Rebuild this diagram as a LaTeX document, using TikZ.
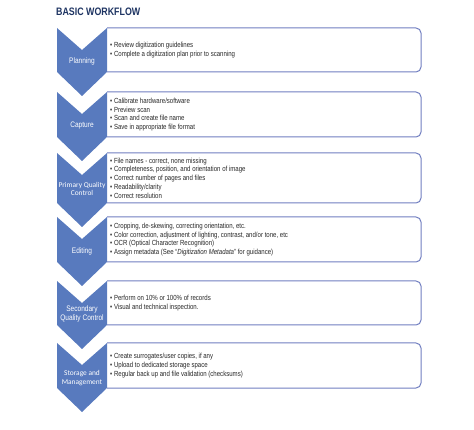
\documentclass[tikz,border=0pt]{standalone}
\usepackage{fontspec}
\setmainfont{Liberation Sans}[FakeStretch=0.82]
\newfontfamily\calib{Carlito}
\usepackage{tikz}
\usetikzlibrary{calc}
\definecolor{chevblue}{RGB}{88,122,190}
\definecolor{boxline}{RGB}{112,126,192}
\definecolor{titleblue}{RGB}{30,52,98}
\tikzset{
  items/.style={anchor=west, align=left, inner sep=0pt, text=black!85,
    font=\fontsize{7.4}{8.8}\selectfont},
  chevlabel/.style={align=center, inner sep=0pt, text=white,
    font=\fontsize{8}{8.6}\selectfont},
  calblabel/.style={align=center, inner sep=0pt, text=white,
    font=\calib\fontsize{7.4}{8.6}\selectfont}
}
\def\chevron[#1](#2:#3){\fill[#1] (57,#2) -- (82,#2+22) -- (107,#2) -- (107,#3) -- (82,#3+24) -- (57,#3) -- cycle;}
\def\stagebox(#1:#2){\draw[boxline, line width=1pt, rounded corners=5pt] (107,#1) -- (421,#1) -- (421,#2) -- (107,#2);}

\begin{document}
\begin{tikzpicture}[x=1pt, y=-1pt]
			%%%%% START %%%%%
			\useasboundingbox (0,0) rectangle (474,430);
			
			\node[anchor=west, inner sep=0pt, text=titleblue, font=\bfseries\fontsize{10.8}{12}\selectfont] (title) at (56,12) {BASIC WORKFLOW};
			
			\stagebox(28:72);
			\chevron[chevblue](28:72);
			\node[chevlabel] (planning) at (82,61) {Planning};
			\node[items] (planitems) at (110,50) {\textbullet\ Review digitization guidelines\\
				\textbullet\ Complete a digitization plan prior to scanning};
			
			\stagebox(92:137);
			\chevron[chevblue](92:137);
			\node[chevlabel] (capture) at (82,125.5) {Capture};
			\node[items] (captitems) at (110,114.5) {\textbullet\ Calibrate hardware/software\\
				\textbullet\ Preview scan\\
				\textbullet\ Scan and create file name\\
				\textbullet\ Save in appropriate file format};
			
			\stagebox(153:203);
			\chevron[chevblue](153:203);
			\node[calblabel] (primqc) at (82,189) {Primary Quality\\Control};
			\node[items] (primitems) at (110,178) {\textbullet\ File names - correct, none missing\\
				\textbullet\ Completeness, position, and orientation of image\\
				\textbullet\ Correct number of pages and files\\
				\textbullet\ Readability/clarity\\
				\textbullet\ Correct resolution};
			
			\stagebox(217:262);
			\chevron[chevblue](217:262);
			\node[chevlabel] (editing) at (82,251) {Editing};
			\node[items] (edititems) at (110,239.5) {\textbullet\ Cropping, de-skewing, correcting orientation, etc.\\
				\textbullet\ Color correction, adjustment of lighting, contrast, and/or tone, etc\\
				\textbullet\ OCR (Optical Character Recognition)\\
				\textbullet\ Assign metadata (See “\textit{Digitization Metadata}” for guidance)};
			
			\stagebox(281:325);
			\chevron[chevblue](281:325);
			\node[chevlabel] (secqc) at (82,314) {Secondary\\Quality Control};
			\node[items] (secitems) at (110,303) {\textbullet\ Perform on 10\% or 100\% of records\\
				\textbullet\ Visual and technical inspection.};
			
			\stagebox(343:388);
			\chevron[chevblue](343:388);
			\node[calblabel] (storage) at (82,378) {Storage and\\Management};
			\node[items] (storitems) at (110,365.5) {\textbullet\ Create surrogates/user copies, if any\\
				\textbullet\ Upload to dedicated storage space\\
				\textbullet\ Regular back up and file validation (checksums)};
			
			%%%%% END %%%%%
		\end{tikzpicture}
\end{document}
